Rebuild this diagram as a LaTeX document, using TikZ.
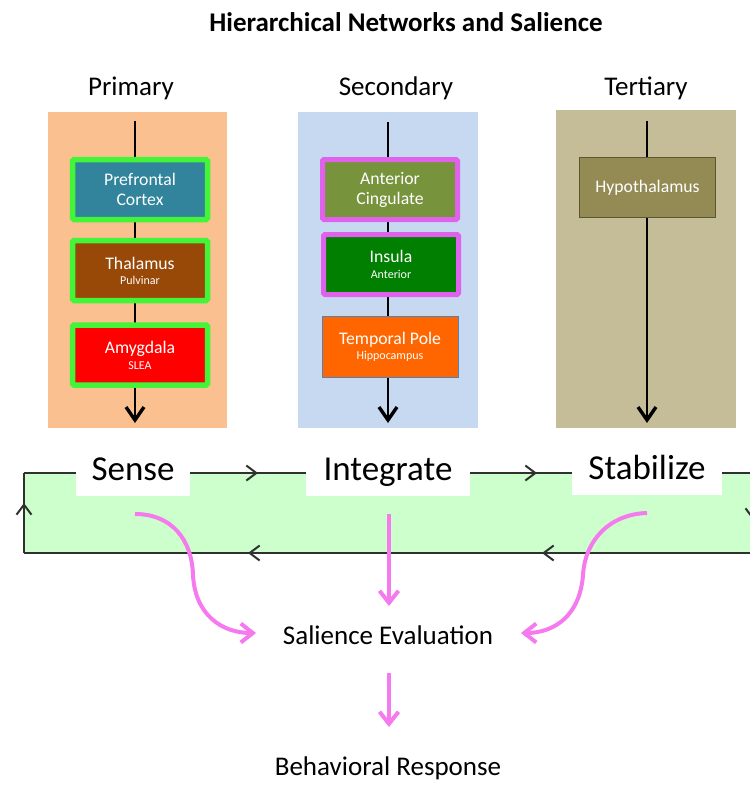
\documentclass[tikz,border=0pt]{standalone}
\usepackage{fontspec}
\setmainfont{Carlito}
\usetikzlibrary{arrows.meta,decorations.markings}

% panel and region colours
\definecolor{primbg}{HTML}{FAC090}
\definecolor{secbg}{HTML}{C6D9F1}
\definecolor{terbg}{HTML}{C4BD97}
\definecolor{loopbg}{HTML}{CCFFCC}
\definecolor{glowgreen}{HTML}{44F438}
\definecolor{glowpink}{HTML}{E062EC}
\definecolor{salpink}{HTML}{F57AEE}
\definecolor{pfcfill}{HTML}{31849B}
\definecolor{thalfill}{HTML}{984807}
\definecolor{amyfill}{HTML}{FF0000}
\definecolor{accfill}{HTML}{77933C}
\definecolor{insfill}{HTML}{007F00}
\definecolor{tpfill}{HTML}{FF6600}
\definecolor{tpedge}{HTML}{4F81BD}
\definecolor{hypfill}{HTML}{948A54}
\definecolor{hypedge}{HTML}{5C5630}
\definecolor{loopedge}{HTML}{303030}

\tikzset{
  panel/.style={draw=none, inner sep=0pt},
  region/.style={text=white, align=center, inner sep=0pt,
    font=\fontsize{17.7}{20}\selectfont},
  greenregion/.style={region, draw=glowgreen, line width=5.5pt, rounded corners=1.5pt,
    minimum width=135pt, minimum height=60pt},
  pinkregion/.style={region, draw=glowpink, line width=5pt, rounded corners=1.5pt,
    minimum width=135pt, minimum height=60pt},
  flowbarb/.tip={Straight Barb[length=13pt,width=18pt,line width=3.4pt]},
  loopbarb/.tip={Straight Barb[length=10pt,width=15pt,line width=2pt]},
  salbarb/.tip={Straight Barb[length=12pt,width=19pt,line width=4pt]},
  flowline/.style={line width=2pt, -flowbarb},
  loopline/.style={draw=loopedge, line width=1.1pt},
  salarrow/.style={draw=salpink, line width=4pt, -salbarb},
  heading/.style={anchor=base, font=\fontsize{27}{32}\selectfont},
  stagelabel/.style={fill=white, anchor=base, text depth=0pt, text height=23pt,
    inner ysep=16pt, inner xsep=0pt, font=\fontsize{35}{40}\selectfont}
}
\newcommand{\subtxt}[1]{{\fontsize{12}{14}\selectfont #1}}

\begin{document}
\begin{tikzpicture}[x=1pt,y=-1pt]
\useasboundingbox (0,0) rectangle (750,785);
\clip (0,0) rectangle (750,785);

% title and column headings
\node[anchor=base, font=\bfseries\fontsize{27}{32}\selectfont] (title) at (406,31)
  {Hierarchical Networks and Salience};
\node[heading] (hprim) at (131,95) {Primary};
\node[heading] (hsec) at (396,95) {Secondary};
\node[heading] (hter) at (646,95) {Tertiary};

% column panels
\node[panel, fill=primbg, minimum width=179pt, minimum height=316pt] (pprim) at (137.5,270) {};
\node[panel, fill=secbg, minimum width=180pt, minimum height=316pt] (psec) at (388,270) {};
\node[panel, fill=terbg, minimum width=180pt, minimum height=318pt] (pter) at (646,269) {};

% flow lines through each column
\coordinate (primtop) at (135,121);
\coordinate (primbot) at (135,423);
\coordinate (sectop) at (388,122);
\coordinate (secbot) at (388,423);
\coordinate (tertop) at (647,121);
\coordinate (terbot) at (647,423);
\draw[flowline] (primtop) -- (primbot);
\draw[flowline] (sectop) -- (secbot);
\draw[flowline] (tertop) -- (terbot);

% primary regions
\node[greenregion, fill=pfcfill] (pfc) at (140,189.5) {Prefrontal\\Cortex};
\node[greenregion, fill=thalfill] (thal) at (140,270.5) {Thalamus\\[-5pt]\subtxt{Pulvinar}};
\node[greenregion, fill=amyfill] (amy) at (140,355) {Amygdala\\[-4pt]\subtxt{SLEA}};

% secondary regions
\node[pinkregion, fill=accfill] (acc) at (390,189.5) {Anterior\\Cingulate};
\node[pinkregion, fill=insfill] (ins) at (391,264.5) {Insula\\[-4pt]\subtxt{Anterior}};
\node[region, fill=tpfill, draw=tpedge, line width=1pt, minimum width=136pt,
  minimum height=61pt] (tp) at (390,346.5) {Temporal Pole\\[-5pt]\subtxt{Hippocampus}};

% tertiary region
\node[region, fill=hypfill, draw=hypedge, line width=1.5pt, minimum width=136pt,
  minimum height=60pt] (hyp) at (647.5,187.5) {Hypothalamus};

% feedback loop band
\coordinate (tl) at (24,473);
\coordinate (tr) at (753,473);
\coordinate (br) at (753,553);
\coordinate (bl) at (24,553);
\fill[loopbg] (tl) rectangle (br);
\draw[loopline, postaction={decorate}, decoration={markings,
  mark=at position 50pt with {\arrow{loopbarb}}}] (bl) -- (tl);
\draw[loopline, postaction={decorate}, decoration={markings,
  mark=at position 234pt with {\arrow{loopbarb}},
  mark=at position 513pt with {\arrow{loopbarb}}}] (tl) -- (tr);
\draw[loopline, postaction={decorate}, decoration={markings,
  mark=at position 47pt with {\arrow{loopbarb}}}] (tr) -- (br);
\draw[loopline, postaction={decorate}, decoration={markings,
  mark=at position 211pt with {\arrow{loopbarb}},
  mark=at position 505pt with {\arrow{loopbarb}}}] (br) -- (bl);

% stage labels on the loop
\node[stagelabel, minimum width=114pt] (sense) at (133,480) {Sense};
\node[stagelabel, minimum width=164pt] (integ) at (388,480) {Integrate};
\node[stagelabel, minimum width=150pt] (stab) at (647,479) {Stabilize};

% salience and response
\node[heading] (sal) at (388,644) {Salience Evaluation};
\node[heading] (resp) at (388,775) {Behavioral Response};

\coordinate (senseout) at (135,514);
\coordinate (integout) at (389,514);
\coordinate (stabout) at (647,513);
\coordinate (salleft) at (256,633);
\coordinate (saltop) at (389,606);
\coordinate (salright) at (521,633);
\coordinate (salbot) at (389,673);
\coordinate (resptop) at (389,727);

\draw[salarrow] (senseout) .. controls (172,514) and (192,540) .. (193,575)
  .. controls (195,615) and (222,633) .. (salleft);
\draw[salarrow] (integout) -- (saltop);
\draw[salarrow] (stabout) .. controls (610,514) and (585,540) .. (583,575)
  .. controls (580,615) and (555,633) .. (salright);
\draw[salarrow] (salbot) -- (resptop);
\end{tikzpicture}
\end{document}
